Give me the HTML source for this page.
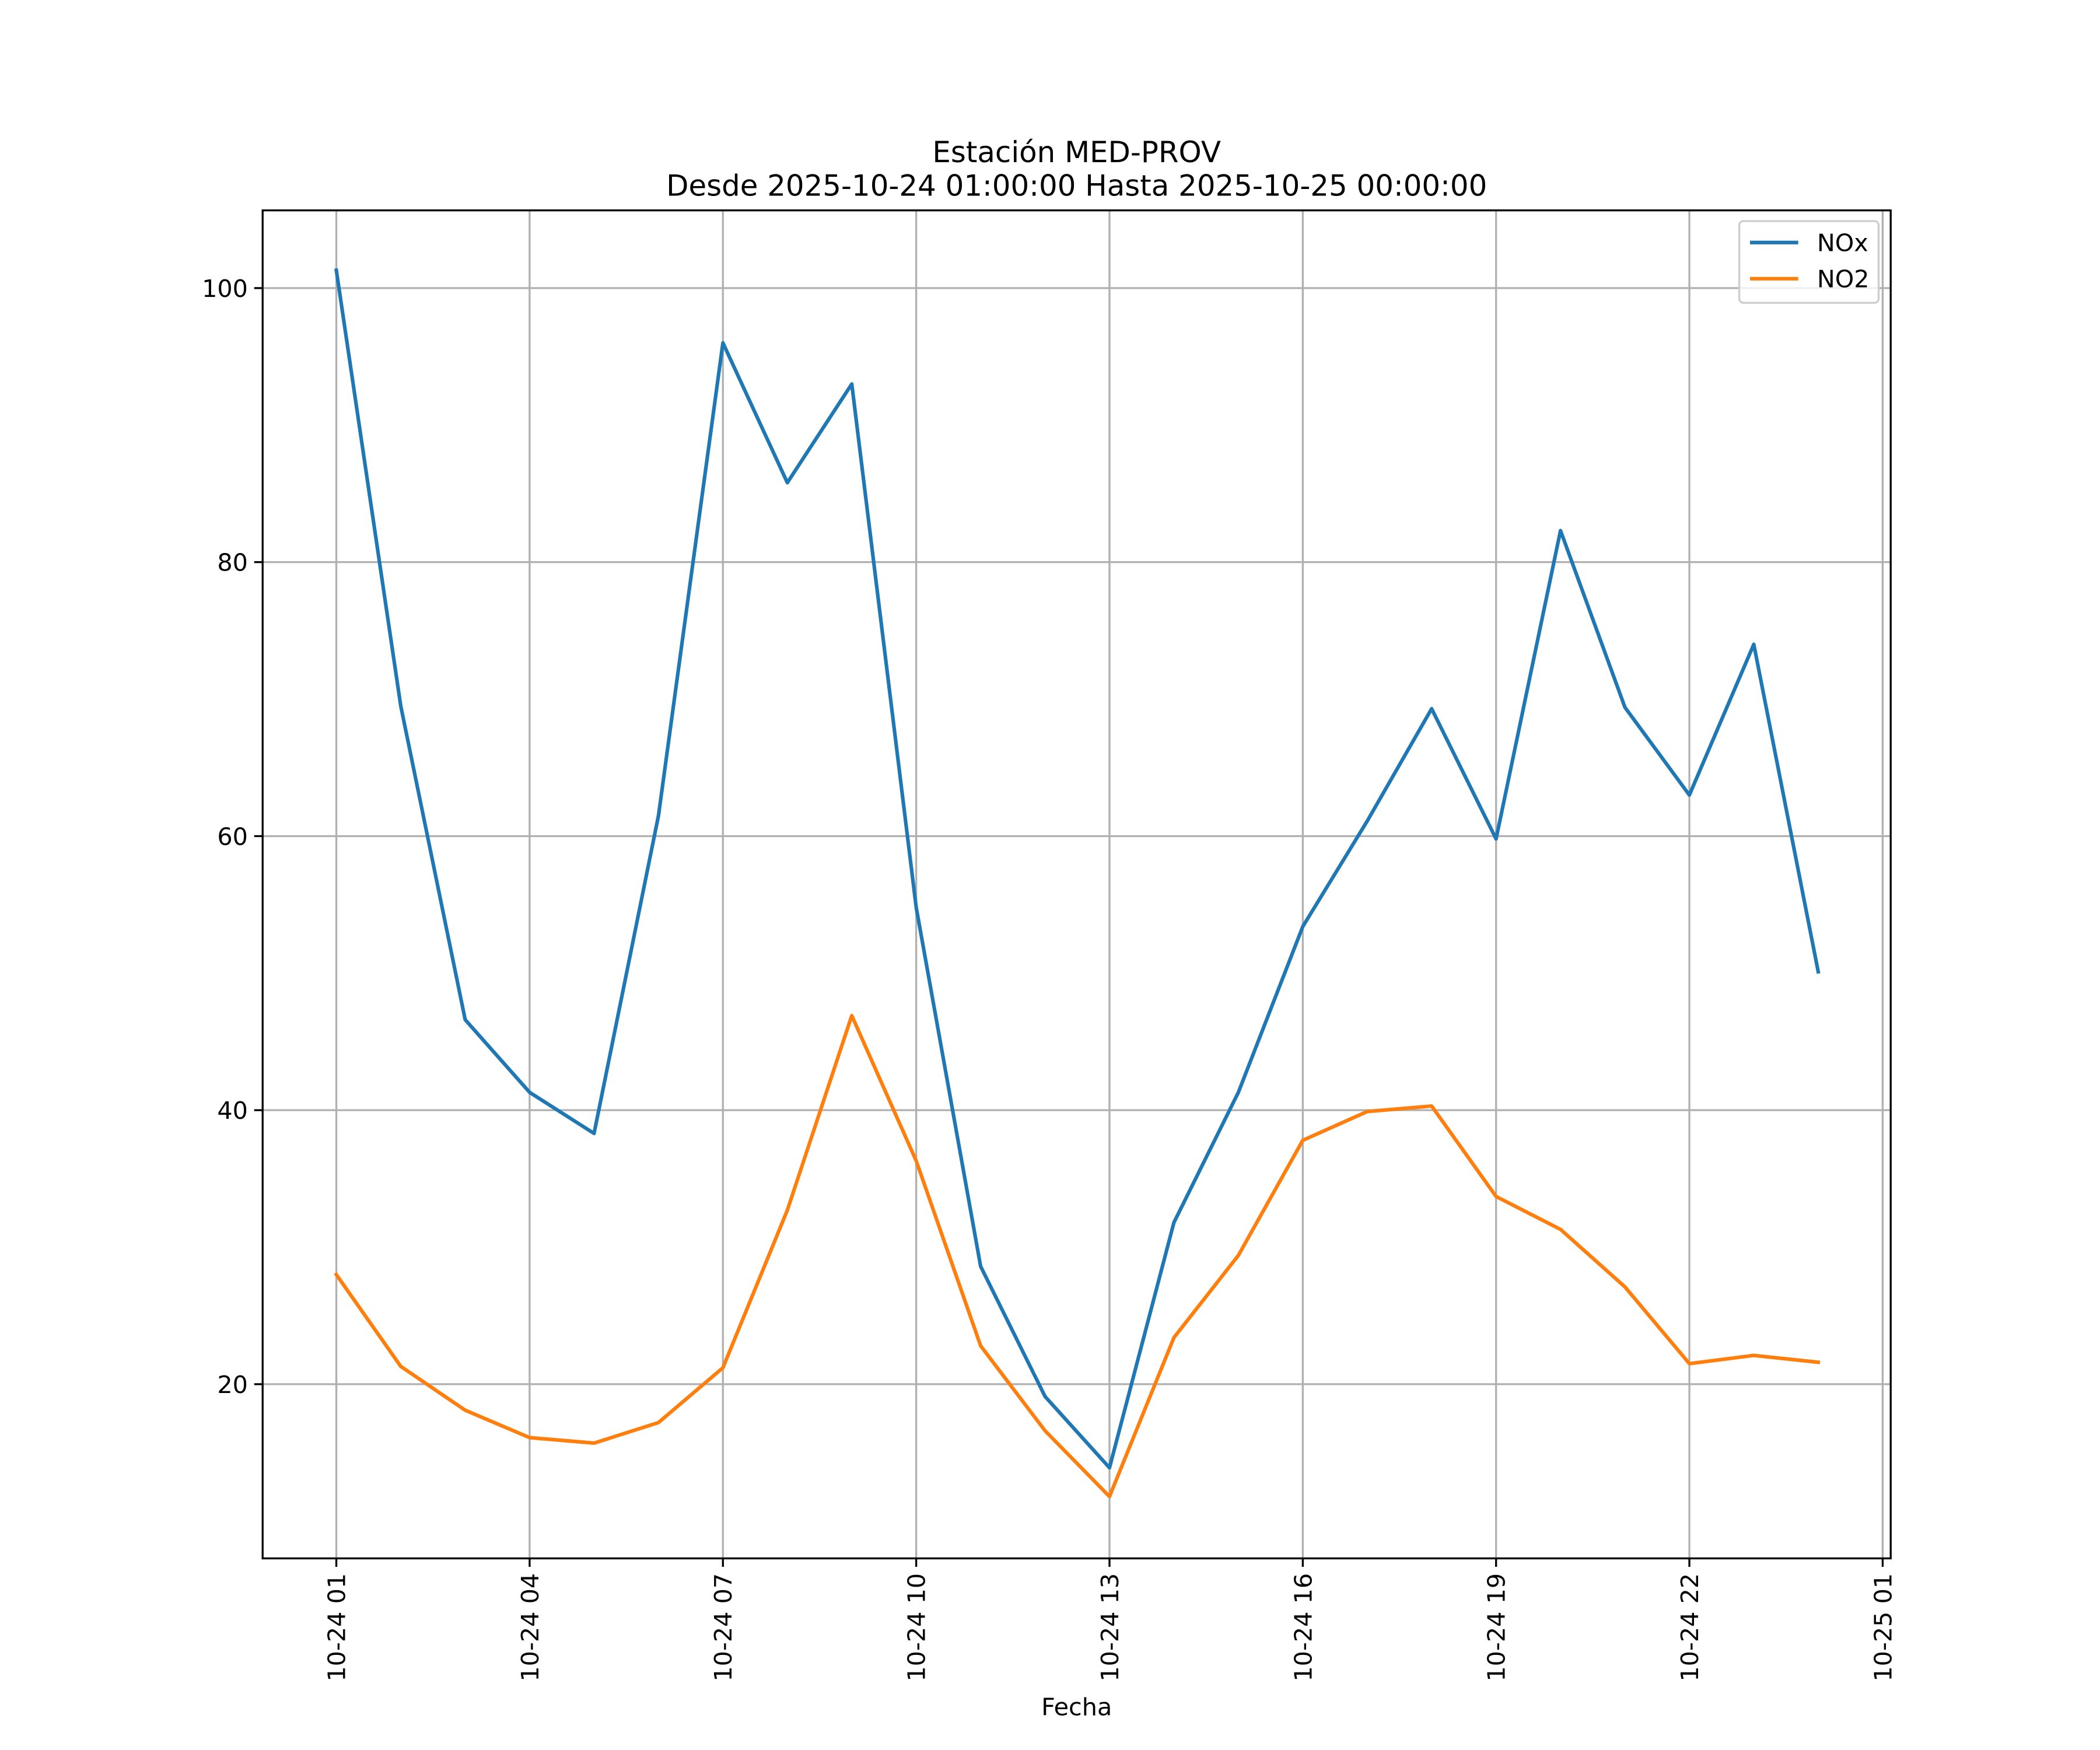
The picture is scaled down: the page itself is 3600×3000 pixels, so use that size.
<!DOCTYPE html>
<html><head><meta charset="utf-8"><style>
html,body{margin:0;padding:0;background:#fff}
svg{display:block;font-family:"DejaVu Sans","Liberation Sans",sans-serif}
</style></head><body>
<svg id="chart" width="3600" height="3000" viewBox="0 0 1567 1306" preserveAspectRatio="xMinYMin meet" xmlns="http://www.w3.org/2000/svg">
<rect width="1567" height="1306" fill="#fff"/>
<text x="803.5" y="121" font-size="21.7" text-anchor="middle">Estación MED-PROV</text>
<text x="803.5" y="146" font-size="21.7" text-anchor="middle">Desde 2025-10-24 01:00:00 Hasta 2025-10-25 00:00:00</text>
<g id="grid"></g>
<g id="series"></g>
<rect x="196" y="157" width="1215" height="1006" fill="none" stroke="#000" stroke-width="1.44"/>
<g id="ticks"></g>
<text x="803.5" y="1280" font-size="18" text-anchor="middle">Fecha</text>
<g>
<rect x="1298" y="165" width="104" height="61" fill="#fff" fill-opacity="0.8" stroke="#ccc" stroke-width="1.4" rx="3"/>
<line x1="1306" y1="181" x2="1342" y2="181" stroke="#1f77b4" stroke-width="2.7"/>
<text x="1356" y="187.5" font-size="18">NOx</text>
<line x1="1306" y1="208" x2="1342" y2="208" stroke="#ff7f0e" stroke-width="2.7"/>
<text x="1356" y="214.5" font-size="18">NO2</text>
</g>
</svg>
<script>
const hours = [1,2,3,4,5,6,7,8,9,10,11,12,13,14,15,16,17,18,19,20,21,22,23,24];
const noxValues = [101.3,69.5,46.6,41.3,38.3,61.5,96.0,85.8,93.0,54.8,28.6,19.1,13.9,31.8,41.3,53.4,61.1,69.3,59.8,82.3,69.4,63.0,74.0,50.1];
const no2Values = [28.0,21.3,18.1,16.1,15.7,17.2,21.2,32.7,46.9,36.3,22.8,16.6,11.8,23.4,29.4,37.8,39.9,40.3,33.7,31.3,27.1,21.5,22.1,21.6];
const yTicks = [20,40,60,80,100];
const xTickHours = [1,4,7,10,13,16,19,22,25];
const xTickLabels = ["10-24 01","10-24 04","10-24 07","10-24 10","10-24 13","10-24 16","10-24 19","10-24 22","10-25 01"];

const NS = "http://www.w3.org/2000/svg";
const L=196,R=1411,T=157,B=1163;
const xScale = h => 251 + (h-1)*(1405-251)/24;
const yScale = v => 215 + (100-v)*(1033-215)/80;
function mk(tag, attrs, parent){const e=document.createElementNS(NS,tag);for(const k in attrs)e.setAttribute(k,attrs[k]);parent.appendChild(e);return e;}
const grid=document.getElementById('grid'), ticks=document.getElementById('ticks'), series=document.getElementById('series');

yTicks.forEach(v=>{
  const y=yScale(v);
  const g=mk('line',{x1:L,x2:R,y1:y,y2:y,stroke:'#b0b0b0','stroke-width':1.44},grid);
  
  
  const t=mk('line',{x1:L-6.3,x2:L,y1:y,y2:y,stroke:'#000','stroke-width':1.44},ticks);
  
  
  const lb=mk('text',{x:L-11,y:y+6.5,'font-size':18,'text-anchor':'end'},ticks);
  lb.textContent=v;
  
  
});
xTickHours.forEach((h,i)=>{
  const x=xScale(h);
  const g=mk('line',{x1:x,x2:x,y1:T,y2:B,stroke:'#b0b0b0','stroke-width':1.44},grid);
  
  
  const t=mk('line',{x1:x,x2:x,y1:B,y2:B+6.3,stroke:'#000','stroke-width':1.44},ticks);
  
  
  const lb=mk('text',{x:0,y:0,'font-size':18,'text-anchor':'end',transform:`translate(${x+6.5},${B+11}) rotate(-90)`},ticks);
  lb.textContent=xTickLabels[i];
  
  
});
function line(vals,color,name){
  const pts=vals.map((v,i)=>xScale(hours[i]).toFixed(2)+','+yScale(v).toFixed(2)).join(' ');
  const p=mk('polyline',{points:pts,fill:'none',stroke:color,'stroke-width':2.7,'stroke-linejoin':'round','stroke-linecap':'square'},series);
  
  
}
line(noxValues,'#1f77b4','nox-line');
line(no2Values,'#ff7f0e','no2-line');
</script>
</body></html>
